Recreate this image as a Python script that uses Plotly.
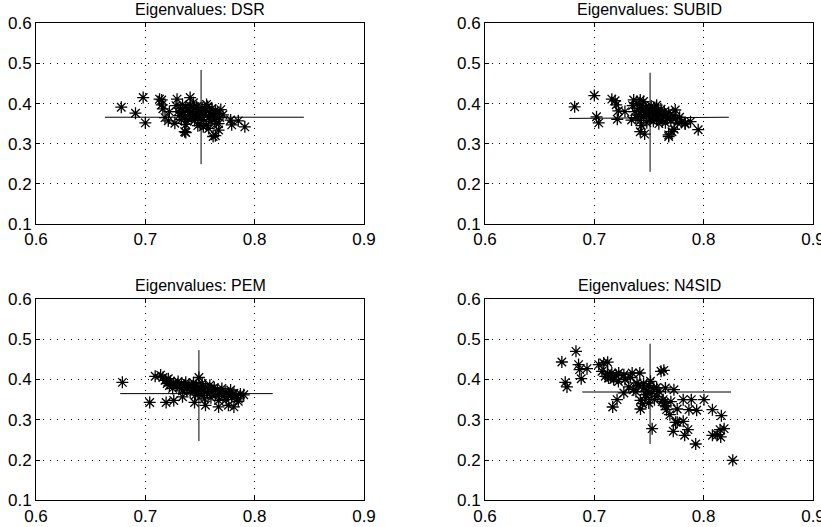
import plotly.graph_objects as go

titles = ["Eigenvalues: DSR", "Eigenvalues: SUBID", "Eigenvalues: PEM", "Eigenvalues: N4SID"]
x_ticks = [0.6, 0.7, 0.8, 0.9]
x_tick_labels = ["0.6", "0.7", "0.8", "0.9"]
y_ticks = [0.1, 0.2, 0.3, 0.4, 0.5, 0.6]
y_tick_labels = ["0.1", "0.2", "0.3", "0.4", "0.5", "0.6"]

# ---- DSR ----
dsr_pts = [
    (0.678, 0.391), (0.691, 0.376), (0.698, 0.415), (0.700, 0.352), (0.713, 0.411),
    (0.715, 0.409), (0.715, 0.397), (0.716, 0.387), (0.722, 0.380), (0.718, 0.365),
    (0.721, 0.357), (0.729, 0.411), (0.727, 0.351), (0.741, 0.415), (0.736, 0.330),
    (0.737, 0.328), (0.778, 0.359), (0.779, 0.347), (0.785, 0.357), (0.791, 0.342),
    (0.762, 0.318), (0.764, 0.320), (0.767, 0.334), (0.767, 0.350), (0.758, 0.338),
    (0.753, 0.342),
    (0.728, 0.395), (0.730, 0.380), (0.731, 0.370), (0.732, 0.388), (0.733, 0.360),
    (0.734, 0.398), (0.735, 0.378), (0.736, 0.368), (0.737, 0.390), (0.738, 0.356),
    (0.739, 0.383), (0.740, 0.372), (0.741, 0.395), (0.742, 0.364), (0.743, 0.380),
    (0.744, 0.388), (0.745, 0.358), (0.746, 0.374), (0.747, 0.392), (0.748, 0.366),
    (0.749, 0.382), (0.750, 0.350), (0.751, 0.376), (0.752, 0.390), (0.753, 0.360),
    (0.754, 0.370), (0.755, 0.384), (0.756, 0.346), (0.757, 0.393), (0.758, 0.366),
    (0.759, 0.378), (0.760, 0.356), (0.761, 0.388), (0.762, 0.372), (0.763, 0.362),
    (0.764, 0.382), (0.765, 0.350), (0.766, 0.375), (0.768, 0.365), (0.769, 0.385),
    (0.771, 0.372), (0.744, 0.402), (0.756, 0.398), (0.737, 0.348), (0.748, 0.345),
]
dsr_x = [p[0] for p in dsr_pts]
dsr_y = [p[1] for p in dsr_pts]
dsr_hline_x = [0.663, 0.845]
dsr_hline_y = [0.366, 0.366]
dsr_vline_x = [0.751, 0.751]
dsr_vline_y = [0.249, 0.484]

# ---- SUBID ----
subid_pts = [
    (0.682, 0.392), (0.700, 0.420), (0.702, 0.367), (0.704, 0.352), (0.716, 0.411),
    (0.719, 0.407), (0.720, 0.397), (0.722, 0.382), (0.721, 0.361), (0.728, 0.380),
    (0.734, 0.359), (0.736, 0.409), (0.742, 0.409), (0.742, 0.330), (0.746, 0.324),
    (0.768, 0.318), (0.771, 0.330), (0.774, 0.384), (0.783, 0.351), (0.783, 0.349),
    (0.788, 0.355), (0.795, 0.335), (0.773, 0.336), (0.768, 0.322),
    (0.735, 0.395), (0.737, 0.380), (0.738, 0.365), (0.739, 0.400), (0.740, 0.372),
    (0.741, 0.388), (0.742, 0.358), (0.743, 0.382), (0.744, 0.395), (0.745, 0.368),
    (0.746, 0.377), (0.747, 0.390), (0.748, 0.352), (0.749, 0.384), (0.750, 0.372),
    (0.751, 0.362), (0.752, 0.394), (0.753, 0.378), (0.754, 0.356), (0.755, 0.388),
    (0.756, 0.370), (0.757, 0.362), (0.758, 0.382), (0.759, 0.350), (0.760, 0.374),
    (0.761, 0.386), (0.762, 0.358), (0.763, 0.368), (0.764, 0.380), (0.765, 0.352),
    (0.766, 0.372), (0.767, 0.362), (0.768, 0.378), (0.770, 0.358), (0.772, 0.370),
    (0.774, 0.362), (0.776, 0.352), (0.778, 0.366), (0.780, 0.356), (0.745, 0.405),
    (0.757, 0.396), (0.743, 0.345),
]
subid_x = [p[0] for p in subid_pts]
subid_y = [p[1] for p in subid_pts]
subid_hline_x = [0.677, 0.823]
subid_hline_y = [0.363, 0.366]
subid_vline_x = [0.751, 0.751]
subid_vline_y = [0.230, 0.477]

# ---- PEM ----
pem_pts = [
    (0.679, 0.393), (0.704, 0.343), (0.709, 0.408), (0.714, 0.411), (0.719, 0.343),
    (0.726, 0.348), (0.734, 0.357), (0.745, 0.343), (0.749, 0.405),
    (0.716, 0.405), (0.718, 0.398), (0.720, 0.390), (0.721, 0.402), (0.722, 0.385),
    (0.723, 0.396), (0.725, 0.378), (0.726, 0.392), (0.728, 0.386), (0.730, 0.395),
    (0.731, 0.380), (0.733, 0.390), (0.734, 0.372), (0.736, 0.385), (0.737, 0.393),
    (0.738, 0.377), (0.740, 0.388), (0.741, 0.368), (0.742, 0.382), (0.744, 0.392),
    (0.745, 0.374), (0.746, 0.362), (0.747, 0.385), (0.748, 0.370), (0.750, 0.380),
    (0.751, 0.360), (0.752, 0.390), (0.753, 0.372), (0.754, 0.352), (0.755, 0.382),
    (0.757, 0.366), (0.758, 0.376), (0.759, 0.386), (0.760, 0.355), (0.761, 0.370),
    (0.763, 0.380), (0.764, 0.362), (0.766, 0.374), (0.767, 0.348), (0.768, 0.366),
    (0.770, 0.378), (0.771, 0.358), (0.773, 0.370), (0.774, 0.350), (0.776, 0.364),
    (0.778, 0.374), (0.779, 0.356), (0.781, 0.366), (0.783, 0.360), (0.785, 0.352),
    (0.787, 0.364), (0.790, 0.362),
    (0.755, 0.336), (0.767, 0.332), (0.776, 0.336), (0.781, 0.332), (0.785, 0.346),
]
pem_x = [p[0] for p in pem_pts]
pem_y = [p[1] for p in pem_pts]
pem_hline_x = [0.677, 0.8165]
pem_hline_y = [0.365, 0.365]
pem_vline_x = [0.749, 0.749]
pem_vline_y = [0.247, 0.473]

# ---- N4SID ----
n4sid_pts = [
    (0.6703, 0.4435), (0.6832, 0.470), (0.6734, 0.393), (0.675, 0.3815), (0.6856, 0.437),
    (0.6865, 0.4245), (0.6933, 0.427), (0.688, 0.402), (0.704, 0.437), (0.7086, 0.441),
    (0.7122, 0.443), (0.707, 0.4204), (0.710, 0.408), (0.713, 0.4038), (0.7177, 0.400),
    (0.7223, 0.4162), (0.727, 0.412), (0.716, 0.4162), (0.7208, 0.350), (0.7168, 0.3318),
    (0.727, 0.3666), (0.7315, 0.3815), (0.736, 0.3748), (0.739, 0.3914), (0.7416, 0.4162),
    (0.7346, 0.4162), (0.7422, 0.3483), (0.7422, 0.3268), (0.7453, 0.379), (0.7468, 0.3624),
    (0.7498, 0.3417), (0.7514, 0.3955), (0.7544, 0.379), (0.7575, 0.3583), (0.7636, 0.4228),
    (0.761, 0.4204), (0.7529, 0.278), (0.759, 0.3707), (0.7642, 0.3417), (0.765, 0.379),
    (0.766, 0.3252), (0.7728, 0.3748), (0.7691, 0.3127), (0.7743, 0.2937), (0.7758, 0.2937),
    (0.7758, 0.3268), (0.7813, 0.2962), (0.7813, 0.350), (0.7887, 0.350), (0.7865, 0.3252),
    (0.7936, 0.3235), (0.8003, 0.350), (0.7722, 0.2714), (0.7826, 0.2614), (0.7856, 0.2755),
    (0.7927, 0.2399), (0.808, 0.3252), (0.8162, 0.3103), (0.808, 0.2614), (0.8125, 0.263),
    (0.815, 0.2755), (0.8187, 0.278), (0.8156, 0.2573), (0.8266, 0.1993),
    (0.748, 0.372), (0.750, 0.385), (0.752, 0.365), (0.755, 0.350), (0.745, 0.390),
    (0.747, 0.355), (0.740, 0.385), (0.733, 0.405), (0.728, 0.400), (0.720, 0.410),
    (0.715, 0.405), (0.712, 0.415), (0.722, 0.395), (0.738, 0.370), (0.744, 0.340),
    (0.757, 0.380), (0.762, 0.345), (0.765, 0.335), (0.770, 0.345), (0.763, 0.350),
]
n4sid_x = [p[0] for p in n4sid_pts]
n4sid_y = [p[1] for p in n4sid_pts]
n4sid_hline_x = [0.689, 0.825]
n4sid_hline_y = [0.369, 0.369]
n4sid_vline_x = [0.751, 0.751]
n4sid_vline_y = [0.240, 0.489]

panels = [
    (dsr_x, dsr_y, dsr_hline_x, dsr_hline_y, dsr_vline_x, dsr_vline_y),
    (subid_x, subid_y, subid_hline_x, subid_hline_y, subid_vline_x, subid_vline_y),
    (pem_x, pem_y, pem_hline_x, pem_hline_y, pem_vline_x, pem_vline_y),
    (n4sid_x, n4sid_y, n4sid_hline_x, n4sid_hline_y, n4sid_vline_x, n4sid_vline_y),
]

W, H = 821, 527
# plot-area pixel boxes (left, right, top, bottom)
boxes = [(36, 364, 23.3, 224), (485, 813, 23.3, 224), (36, 364, 299, 500.3), (485, 813, 299, 500.3)]
title_y_px = [9, 9, 285, 285]

fig = go.Figure()
FONT = "Liberation Sans, Arial, sans-serif"
annotations = []
for i, (px, py, hx, hy, vx, vy) in enumerate(panels):
    xa = "x" if i == 0 else f"x{i+1}"
    ya = "y" if i == 0 else f"y{i+1}"
    fig.add_trace(go.Scatter(x=px, y=py, mode="markers", xaxis=xa, yaxis=ya,
                             marker=dict(symbol="asterisk-open", size=10, color="black",
                                         line=dict(color="black", width=1.3)),
                             showlegend=False, hoverinfo="skip"))
    fig.add_trace(go.Scatter(x=hx, y=hy, mode="lines", xaxis=xa, yaxis=ya,
                             line=dict(color="black", width=1), showlegend=False, hoverinfo="skip"))
    fig.add_trace(go.Scatter(x=vx, y=vy, mode="lines", xaxis=xa, yaxis=ya,
                             line=dict(color="black", width=1), showlegend=False, hoverinfo="skip"))
    l, r, t, b = boxes[i]
    axcommon = dict(showline=True, linecolor="black", linewidth=1, mirror="ticks",
                    ticks="inside", ticklen=4, tickcolor="black", automargin=False,
                    ticklabeloverflow="allow",
                    showgrid=True, gridcolor="black", gridwidth=1, griddash="1px,6px",
                    zeroline=False, tickfont=dict(family=FONT, size=17, color="black"))
    key_x = "xaxis" if i == 0 else f"xaxis{i+1}"
    key_y = "yaxis" if i == 0 else f"yaxis{i+1}"
    fig.update_layout({
        key_x: dict(domain=[l / W, r / W], range=[0.6, 0.9], anchor=ya,
                    tickvals=x_ticks, ticktext=x_tick_labels, **axcommon),
        key_y: dict(domain=[1 - b / H, 1 - t / H], range=[0.1, 0.6], anchor=xa,
                    tickvals=y_ticks, ticktext=y_tick_labels, **axcommon),
    })
    annotations.append(dict(text=titles[i], x=(l + r) / 2 / W, y=1 - title_y_px[i] / H,
                            xref="paper", yref="paper", xanchor="center", yanchor="middle",
                            showarrow=False, font=dict(family=FONT, size=16, color="black")))

fig.update_layout(template="none", width=W, height=H, margin=dict(l=0, r=0, t=0, b=0),
                  paper_bgcolor="white", plot_bgcolor="white", annotations=annotations)
# remove the browser's default 8px page margin so the figure fills the window exactly
fig.write_html("out.html", config={"displayModeBar": False},
               post_script="document.body.style.margin='0';")
